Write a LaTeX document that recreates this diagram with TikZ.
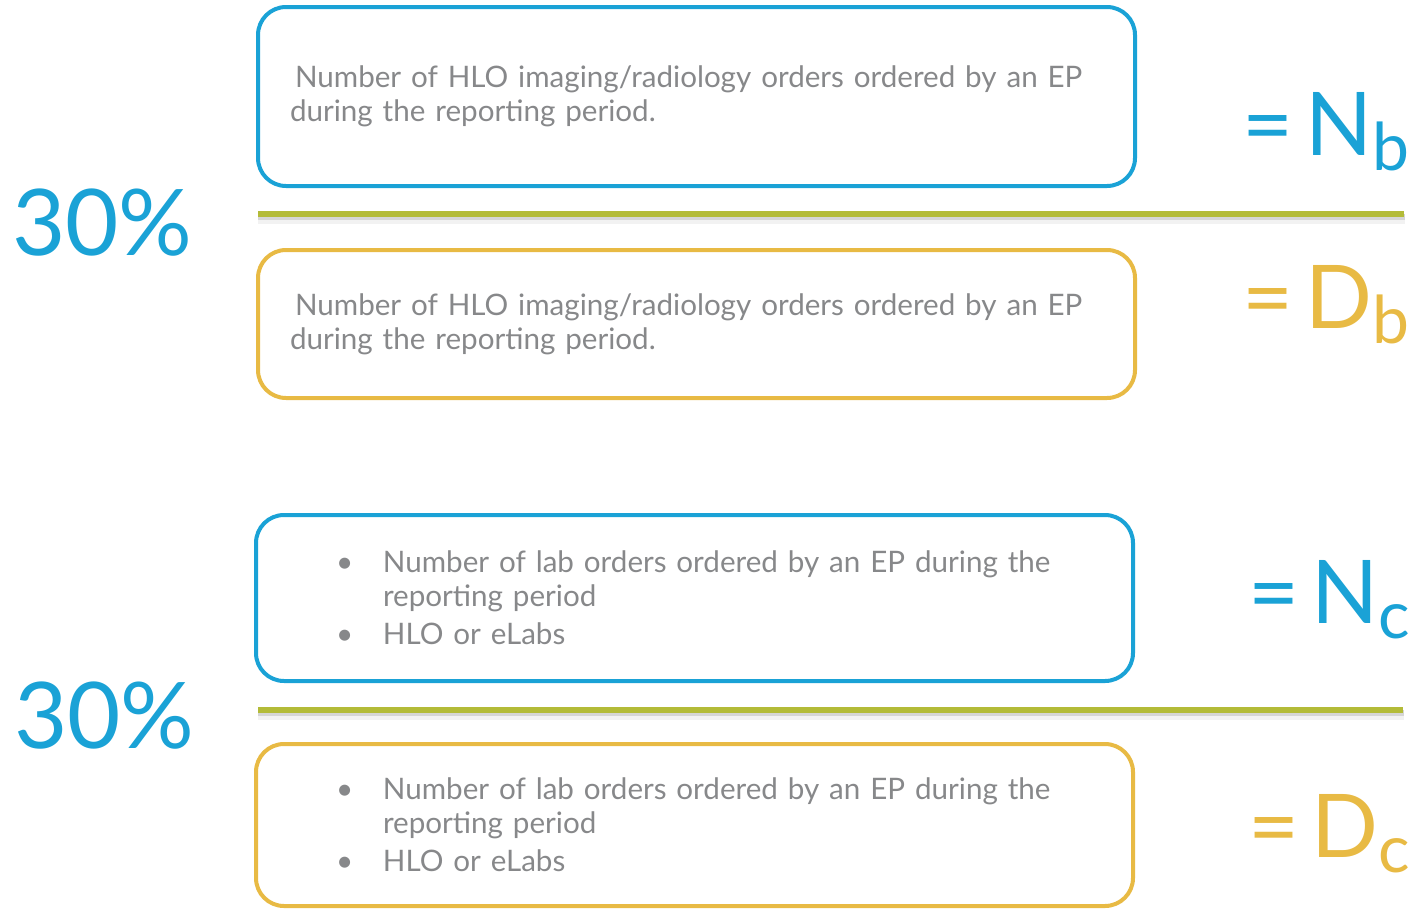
\documentclass[tikz,border=0pt]{standalone}
\usepackage{fontspec}
\setmainfont{Lato}[WordSpace=0.7]
\usetikzlibrary{positioning}

\definecolor{hloblue}{RGB}{26,162,214}
\definecolor{hloyellow}{RGB}{232,186,68}
\definecolor{hlogreen}{RGB}{179,187,56}
\definecolor{hlogray}{RGB}{135,136,138}

\newcommand{\boxfont}{\fontsize{29.6}{34}\selectfont}
\newcommand{\bigfont}{\fontsize{92}{92}\selectfont}
\newcommand{\lblfont}{\fontsize{88}{88}\selectfont}
\newcommand{\subfont}{\fontsize{66}{66}\selectfont}
\newcommand{\bulit}{\hspace*{22pt}\makebox[47pt][l]{\textbullet}}
\newcommand{\bulgap}{\hspace*{69pt}}

\tikzset{
  numbox/.style={draw=hloblue, line width=4pt, rounded corners=28pt,
    minimum width=877pt, text width=813pt, inner xsep=32pt, align=left,
    text=hlogray, font=\boxfont},
  denbox/.style={numbox, draw=hloyellow},
  numlist/.style={numbox, text width=761pt, inner xsep=58pt},
  denlist/.style={numlist, draw=hloyellow},
  pct/.style={text=hloblue, font=\bigfont, inner sep=0pt, anchor=base west},
  numlbl/.style={text=hloblue, font=\lblfont, inner sep=0pt, anchor=base east},
  denlbl/.style={numlbl, text=hloyellow},
  fracbar/.style={draw=hlogreen, line width=6pt},
  barshadow/.style={draw=black, line width=6pt, opacity=0.12},
  barhalo/.style={draw=black, line width=10pt, opacity=0.05}
}

\begin{document}
\begin{tikzpicture}[x=1pt, y=-1pt]
			\useasboundingbox (0, 0) rectangle (1414, 908);
			
			%%%%% IMAGING %%%%%
			
			\node[numbox, minimum height=179pt] (numb) at (696.5, 96.5)
				{\hspace*{5pt}Number of HLO imaging/radiology orders ordered by an EP\\during the reporting period.};
			\node[denbox, minimum height=148pt] (denb) at (696.5, 324)
				{\hspace*{5pt}Number of HLO imaging/radiology orders ordered by an EP\\during the reporting period.};
			
			\draw[barhalo] (258, 219) -- (1405, 219);
			\draw[barshadow] (258, 217) -- (1405, 217);
			\draw[fracbar] (258, 214) -- (1404, 214);
			
			\node[pct] (pctb) at (12, 255) {30\%};
			\node[numlbl] (nb) at (1410, 155) {=\hspace{12pt}N\raisebox{-15pt}{\subfont b}};
			\node[denlbl] (db) at (1410, 328) {=\hspace{12pt}D\raisebox{-15pt}{\subfont b}};
			
			%%%%% LAB %%%%%
			
			\node[numlist, minimum height=166pt] (numc) at (694.5, 598)
				{\bulit Number of lab orders ordered by an EP during the\\\bulgap reporting period\\[4pt]\bulit HLO or eLabs};
			\node[denlist, minimum height=162pt] (denc) at (694.5, 825)
				{\bulit Number of lab orders ordered by an EP during the\\\bulgap reporting period\\[4pt]\bulit HLO or eLabs};
			
			\draw[barhalo] (258, 715) -- (1404, 715);
			\draw[barshadow] (258, 713) -- (1404, 713);
			\draw[fracbar] (258, 710) -- (1403, 710);
			
			\node[pct] (pctc) at (14, 748) {30\%};
			\node[numlbl] (nc) at (1410, 623) {=\hspace{12pt}N\raisebox{-15pt}{\subfont c}};
			\node[denlbl] (dc) at (1410, 857) {=\hspace{12pt}D\raisebox{-15pt}{\subfont c}};
			
			%%%%% END %%%%%
\end{tikzpicture}
\end{document}
